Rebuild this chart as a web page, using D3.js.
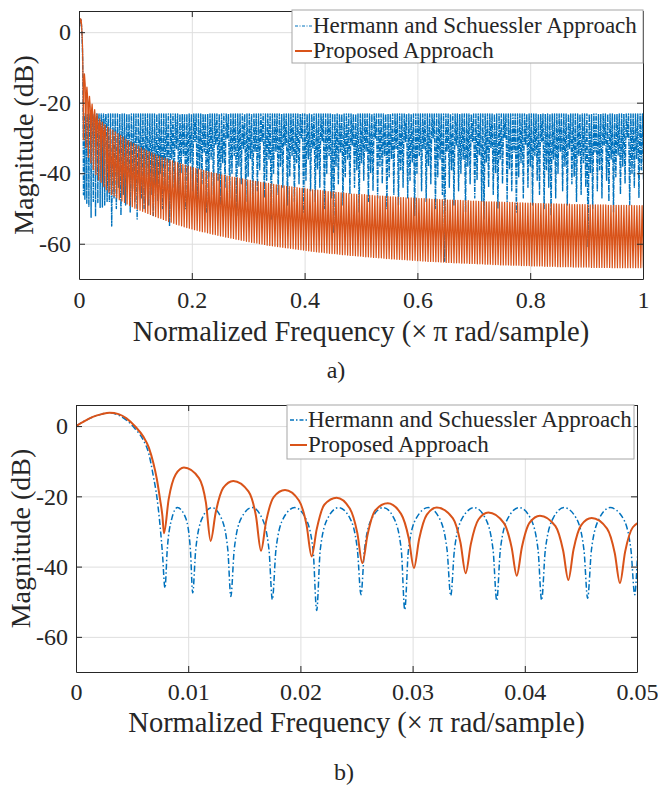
<!DOCTYPE html>
<html>
<head>
<meta charset="utf-8">
<script src="https://cdn.jsdelivr.net/npm/d3@7"></script>
<style>
  html, body { margin: 0; padding: 0; background: #fff; }
  svg { display: block; }
  text { font-family: "Liberation Serif", "Times New Roman", serif; fill: #262626; }
</style>
</head>
<body>
<svg id="fig" width="658" height="787"></svg>
<script>
// ---------------- data ----------------
const seriesNames = ["Hermann and Schuessler Approach", "Proposed Approach"];
const fullFreqTicks = [0, 0.2, 0.4, 0.6, 0.8, 1];
const fullFreqLabels = ["0", "0.2", "0.4", "0.6", "0.8", "1"];
const zoomFreqTicks = [0, 0.01, 0.02, 0.03, 0.04, 0.05];
const zoomFreqLabels = ["0", "0.01", "0.02", "0.03", "0.04", "0.05"];
const dbTicks = [0, -20, -40, -60];
const dbLabels = ["0", "-20", "-40", "-60"];

// Hermann & Schuessler response, passband and first stopband lobes (f in xπ rad/sample, dB)
const hsLowF = [0, 0.0008, 0.0015, 0.0023, 0.003, 0.0038, 0.0045, 0.0053, 0.006, 0.0065, 0.0069, 0.0072, 0.0075, 0.0077, 0.00793,
  0.00813, 0.00855, 0.00903, 0.00978, 0.0102, 0.0104,
  0.01067, 0.01125, 0.0121, 0.01295, 0.01353, 0.0138,
  0.0141, 0.01473, 0.0157, 0.01658, 0.0172, 0.0175,
  0.01782, 0.01849, 0.0195, 0.02046, 0.02113, 0.02145,
  0.02177, 0.02244, 0.0234, 0.02441, 0.02508, 0.0254,
  0.02571, 0.02638, 0.0274, 0.02833, 0.02899, 0.0293,
  0.02963, 0.03033, 0.0314, 0.03238, 0.03307, 0.0334,
  0.03373, 0.03443, 0.0355, 0.03648, 0.03717, 0.0375,
  0.03782, 0.0385, 0.0395, 0.0405, 0.04118, 0.0415,
  0.04183, 0.04253, 0.0435, 0.04458, 0.04527, 0.0456,
  0.04594, 0.04665, 0.0476, 0.04875, 0.04946, 0.0498,
  0.0501, 0.0508, 0.0518];
const hsLowDb = [0, 1.5, 2.6, 3.4, 3.8, 3.1, 1.7, -0.9, -4.0, -8.0, -14.4, -20.0, -28.6, -36.0, -46.1,
  -35.3, -26.2, -23.2, -26.2, -35.3, -47.5,
  -35.2, -26.2, -23.2, -26.2, -35.2, -48.5,
  -35.2, -26.2, -23.2, -26.2, -35.2, -49.4,
  -35.2, -26.2, -23.2, -26.2, -35.2, -52.5,
  -35.2, -26.2, -23.2, -26.2, -35.2, -48.0,
  -35.2, -26.2, -23.2, -26.2, -35.2, -52.3,
  -35.2, -26.2, -23.2, -26.2, -35.2, -48.3,
  -35.2, -26.2, -23.2, -26.2, -35.2, -49.7,
  -35.2, -26.2, -23.2, -26.2, -35.2, -49.6,
  -35.2, -26.2, -23.2, -26.2, -35.2, -49.0,
  -35.2, -26.2, -23.2, -26.2, -35.2, -48.0,
  -35.2, -26.2, -23.2];

// Proposed response, passband and first stopband lobes
const propLowF = [0, 0.0008, 0.0015, 0.0023, 0.003, 0.0038, 0.0045, 0.0053, 0.006, 0.0065, 0.0069, 0.0072, 0.0075, 0.0077, 0.00784,
  0.00826, 0.00888, 0.00962, 0.01096, 0.01158, 0.0120,
  0.01245, 0.01312, 0.01402, 0.01537, 0.01604, 0.01649,
  0.01694, 0.01762, 0.01863, 0.01987, 0.02055, 0.0210,
  0.02145, 0.02213, 0.02323, 0.02439, 0.02507, 0.02552,
  0.02598, 0.02667, 0.02778, 0.02897, 0.02966, 0.03012,
  0.03058, 0.03127, 0.03215, 0.03358, 0.03427, 0.03473,
  0.03519, 0.03587, 0.03675, 0.03814, 0.03883, 0.03928,
  0.03974, 0.04043, 0.04135, 0.04273, 0.04342, 0.04388,
  0.04434, 0.04503, 0.04596, 0.04733, 0.04802, 0.04848,
  0.04894, 0.04963, 0.0506];
const propLowDb = [0, 1.5, 2.6, 3.4, 3.8, 3.4, 2.2, -0.2, -3.0, -6.2, -10.6, -15.0, -21.0, -25.5, -30.5,
  -20.8, -13.8, -11.8, -14.8, -21.8, -32.7,
  -24.6, -17.6, -15.6, -18.6, -25.6, -35.5,
  -27.2, -20.2, -18.2, -21.2, -28.2, -37.1,
  -29.4, -22.4, -20.4, -23.4, -30.4, -39.0,
  -31.0, -24.0, -22.0, -25.0, -32.0, -40.4,
  -32.2, -25.2, -23.2, -26.2, -33.2, -41.9,
  -33.6, -26.6, -24.6, -27.6, -34.6, -42.6,
  -34.5, -27.5, -25.5, -28.5, -35.5, -43.8,
  -35.2, -28.2, -26.2, -29.2, -36.2, -44.7,
  -35.8, -28.8, -26.8];

// Remaining stopband: one peak and one null per lobe
const hsLobeStart = 0.0498, hsLobeWidth = 0.0041, hsRippleDb = -23.2;
const hsNullDb = [
  -48, -55, -47, -50, -44, -52, -46, -49, -41, -51, -45, -48, -53, -43, -47, -50, -42, -49, -46, -52, -44, -48, -40, -50, -45,
  -38, -55, -36, -44, -33, -47, -40, -35, -50, -42, -37, -45, -31, -48, -39, -43, -34, -51, -41, -36,
  -46, -32, -42, -49, -37, -44, -30, -47, -40, -35, -52, -38, -43, -33, -48, -41, -36, -50, -34, -45,
  -39, -31, -47, -42, -36, -53, -40, -34, -46, -38, -44, -32, -49, -41, -35, -48, -37, -43, -30, -51,
  -42, -36, -45, -33, -48, -39, -44, -31, -50, -40, -35, -47, -57, -38, -43, -34, -49, -41, -36, -46,
  -32, -44, -39, -51, -37, -42, -34, -48, -40, -45, -30, -47, -38, -43, -35, -50, -41, -36, -46, -33,
  -49, -39, -44, -31, -47, -42, -37, -52, -40, -35, -45, -33, -48, -38, -43, -30, -50, -41, -36, -46,
  -65, -34, -44, -39, -49, -32, -45, -40, -36, -51, -38, -43, -31, -47, -42, -35, -48, -53, -37, -44,
  -33, -46, -40, -50, -36, -43, -30, -48, -39, -45, -34, -51, -41, -37, -47, -32, -44, -38, -49, -35,
  -42, -46, -31, -50, -39, -44, -52, -36, -47, -40, -34, -45, -38, -49, -33, -43, -41, -48, -35, -46,
  -37, -44, -61, -40, -50, -34, -45, -39, -47, -32, -42, -48, -36, -51, -41, -35, -46, -38, -43, -30,
  -49, -40, -44, -36, -47, -39, -42];

const propLobeStart = 0.04848, propLobeWidth = 0.0046;
const propPeakDb = [
  -26.9, -27.4, -27.8, -28.3, -28.8, -29.3, -29.8, -30.3, -30.8, -31.2,
  -31.6, -32.0, -32.4, -32.8, -33.2, -33.6, -33.9, -34.2, -34.6, -34.9,
  -35.2, -35.5, -35.7, -36.0, -36.3, -36.5, -36.8, -37.0, -37.3, -37.5,
  -37.7, -38.0, -38.2, -38.4, -38.6, -38.8, -39.0, -39.2, -39.4, -39.6,
  -39.8, -40.0, -40.1, -40.3, -40.5, -40.6, -40.8, -40.9, -41.1, -41.2,
  -41.3, -41.5, -41.6, -41.8, -41.9, -42.0, -42.2, -42.3, -42.4, -42.6,
  -42.7, -42.8, -42.9, -43.0, -43.2, -43.3, -43.4, -43.5, -43.6, -43.7,
  -43.8, -43.9, -44.0, -44.1, -44.2, -44.3, -44.4, -44.5, -44.6, -44.7,
  -44.8, -44.8, -44.9, -45.0, -45.1, -45.2, -45.3, -45.3, -45.4, -45.5,
  -45.6, -45.6, -45.7, -45.8, -45.9, -45.9, -46.0, -46.0, -46.1, -46.1,
  -46.2, -46.3, -46.3, -46.4, -46.4, -46.5, -46.5, -46.6, -46.6, -46.7,
  -46.7, -46.8, -46.8, -46.9, -46.9, -47.0, -47.0, -47.0, -47.1, -47.1,
  -47.2, -47.2, -47.2, -47.3, -47.3, -47.4, -47.4, -47.4, -47.5, -47.5,
  -47.5, -47.6, -47.6, -47.6, -47.7, -47.7, -47.7, -47.8, -47.8, -47.8,
  -47.9, -47.9, -47.9, -48.0, -48.0, -48.0, -48.1, -48.1, -48.1, -48.1,
  -48.2, -48.2, -48.2, -48.3, -48.3, -48.3, -48.3, -48.4, -48.4, -48.4,
  -48.4, -48.5, -48.5, -48.5, -48.5, -48.6, -48.6, -48.6, -48.6, -48.7,
  -48.7, -48.7, -48.7, -48.7, -48.8, -48.8, -48.8, -48.8, -48.8, -48.9,
  -48.9, -48.9, -48.9, -48.9, -48.9, -49.0, -49.0, -49.0, -49.0, -49.0,
  -49.0, -49.0, -49.0, -49.1, -49.1, -49.1, -49.1, -49.1, -49.1, -49.1,
  -49.1, -49.1, -49.1, -49.2, -49.2, -49.2, -49.2];
const propNullDb = [
  -45.4, -46.0, -46.5, -47.0, -47.5, -47.9, -48.3, -48.7, -49.1, -49.5,
  -49.9, -50.2, -50.5, -50.8, -51.1, -51.4, -51.7, -52.0, -52.3, -52.6,
  -52.8, -53.1, -53.4, -53.7, -53.9, -54.2, -54.5, -54.7, -54.9, -55.2,
  -55.4, -55.6, -55.8, -56.0, -56.2, -56.4, -56.6, -56.7, -56.9, -57.1,
  -57.3, -57.4, -57.6, -57.8, -57.9, -58.1, -58.2, -58.4, -58.5, -58.7,
  -58.8, -59.0, -59.1, -59.3, -59.4, -59.6, -59.7, -59.8, -60.0, -60.1,
  -60.2, -60.4, -60.5, -60.6, -60.7, -60.8, -60.9, -61.0, -61.1, -61.2,
  -61.3, -61.4, -61.5, -61.6, -61.7, -61.8, -61.9, -62.0, -62.1, -62.2,
  -62.3, -62.4, -62.4, -62.5, -62.6, -62.7, -62.8, -62.8, -62.9, -63.0,
  -63.1, -63.1, -63.2, -63.3, -63.3, -63.4, -63.5, -63.5, -63.6, -63.7,
  -63.7, -63.8, -63.9, -63.9, -64.0, -64.0, -64.1, -64.2, -64.2, -64.3,
  -64.3, -64.4, -64.4, -64.5, -64.5, -64.6, -64.6, -64.7, -64.7, -64.8,
  -64.8, -64.9, -64.9, -65.0, -65.0, -65.0, -65.1, -65.1, -65.2, -65.2,
  -65.3, -65.3, -65.3, -65.4, -65.4, -65.4, -65.5, -65.5, -65.5, -65.6,
  -65.6, -65.6, -65.7, -65.7, -65.7, -65.8, -65.8, -65.8, -65.9, -65.9,
  -65.9, -66.0, -66.0, -66.0, -66.0, -66.1, -66.1, -66.1, -66.1, -66.2,
  -66.2, -66.2, -66.2, -66.3, -66.3, -66.3, -66.3, -66.3, -66.4, -66.4,
  -66.4, -66.4, -66.4, -66.5, -66.5, -66.5, -66.5, -66.5, -66.5, -66.6,
  -66.6, -66.6, -66.6, -66.6, -66.6, -66.6, -66.7, -66.7, -66.7, -66.7,
  -66.7, -66.7, -66.7, -66.7, -66.8, -66.8, -66.8, -66.8, -66.8, -66.8,
  -66.8, -66.8, -66.8, -66.8, -66.8, -66.8, -66.8];

// ---------------- series assembly ----------------
function lowPoints(fs, dbs, upTo) {
  const pts = [];
  fs.forEach((f, i) => { if (upTo === undefined || f <= upTo + 1e-9) pts.push([f, dbs[i]]); });
  return pts;
}
// Append the per-lobe stopband (peak then next null) to the low-frequency points
function withLobes(pts, start, width, peaks, nulls) {
  const out = pts.slice();
  nulls.forEach((n, k) => {
    const p = Array.isArray(peaks) ? peaks[k] : peaks;
    out.push([start + width * (k + 0.5), p]);
    out.push([start + width * (k + 1), n]);
  });
  return out;
}
const hsFull = withLobes(lowPoints(hsLowF, hsLowDb, hsLobeStart), hsLobeStart, hsLobeWidth, hsRippleDb, hsNullDb);
const propFull = withLobes(lowPoints(propLowF, propLowDb, propLobeStart), propLobeStart, propLobeWidth, propPeakDb, propNullDb);
const hsZoom = lowPoints(hsLowF, hsLowDb);
const propZoom = lowPoints(propLowF, propLowDb);

// ---------------- drawing ----------------
const svg = d3.select("#fig");
const BLUE = "#0072BD", RED = "#D95319", AXIS = "#262626", GRID = "#dedede";

function drawPanel(cfg) {
  const [x0, x1] = cfg.xRange, [yTop, yBot] = cfg.yRange;
  const x = d3.scaleLinear().domain(cfg.xDomain).range([x0, x1]);
  const y = d3.scaleLinear().domain([-70, 6]).range([yBot, yTop]);
  const g = svg.append("g");
  const h = yBot - yTop, w = x1 - x0;

  // grid
  g.append("g").attr("transform", `translate(0,${yBot})`)
    .call(d3.axisBottom(x).tickValues(cfg.xTicks).tickSize(-h).tickFormat(""))
    .call(s => { s.select(".domain").remove(); s.selectAll("line").attr("stroke", GRID).attr("stroke-width", 1); });
  g.append("g").attr("transform", `translate(${x0},0)`)
    .call(d3.axisLeft(y).tickValues(dbTicks).tickSize(-w).tickFormat(""))
    .call(s => { s.select(".domain").remove(); s.selectAll("line").attr("stroke", GRID).attr("stroke-width", 1); });

  // curves
  const clipId = "clip" + cfg.id;
  svg.append("clipPath").attr("id", clipId).append("rect")
    .attr("x", x0).attr("y", yTop).attr("width", w).attr("height", h);
  const line = d3.line().x(d => x(d[0])).y(d => y(d[1])).curve(cfg.curve);
  const plot = g.append("g").attr("clip-path", `url(#${clipId})`);
  plot.append("path").datum(cfg.hs).attr("d", line).attr("fill", "none")
    .attr("stroke", BLUE).attr("stroke-width", cfg.hsWidth).attr("stroke-dasharray", cfg.hsDash)
    .attr("stroke-linejoin", "round");
  plot.append("path").datum(cfg.prop).attr("d", line).attr("fill", "none")
    .attr("stroke", RED).attr("stroke-width", cfg.propWidth).attr("stroke-linejoin", "round");

  // axes box with inward ticks on all sides
  const axStyle = s => {
    s.select(".domain").attr("stroke", AXIS).attr("stroke-width", 1);
    s.selectAll(".tick line").attr("stroke", AXIS).attr("stroke-width", 1);
    s.selectAll("text").style("font-family", '"Liberation Serif", serif').style("font-size", "24px").attr("fill", AXIS);
  };
  const fmt = (labels, ticks) => v => labels[ticks.indexOf(v)];
  g.append("g").attr("transform", `translate(0,${yBot})`)
    .call(d3.axisBottom(x).tickValues(cfg.xTicks).tickFormat(fmt(cfg.xLabels, cfg.xTicks)).tickSizeInner(-6).tickSizeOuter(0).tickPadding(cfg.xPad))
    .call(axStyle);
  g.append("g").attr("transform", `translate(0,${yTop})`)
    .call(d3.axisTop(x).tickValues(cfg.xTicks).tickFormat("").tickSizeInner(-6).tickSizeOuter(0))
    .call(axStyle);
  g.append("g").attr("transform", `translate(${x0},0)`)
    .call(d3.axisLeft(y).tickValues(dbTicks).tickFormat(fmt(dbLabels, dbTicks)).tickSizeInner(-6).tickSizeOuter(0).tickPadding(cfg.yPad))
    .call(axStyle);
  g.append("g").attr("transform", `translate(${x1},0)`)
    .call(d3.axisRight(y).tickValues(dbTicks).tickFormat("").tickSizeInner(-6).tickSizeOuter(0))
    .call(axStyle);

  // axis labels
  g.append("text").attr("x", (x0 + x1) / 2).attr("y", cfg.xLabelY).attr("text-anchor", "middle")
    .style("font-size", "28.5px").text("Normalized Frequency (\u00D7\u2009\u03C0 rad/sample)");
  g.append("text").attr("transform", `translate(${cfg.yLabelX},${(yTop + yBot) / 2}) rotate(-90)`)
    .attr("text-anchor", "middle").style("font-size", "28px").text("Magnitude (dB)");
  g.append("text").attr("x", cfg.capX).attr("y", cfg.capY).attr("text-anchor", "middle")
    .style("font-size", "24px").text(cfg.caption);

  // legend
  const L = cfg.legend;
  const lg = g.append("g");
  lg.append("rect").attr("x", L.x).attr("y", L.y).attr("width", L.w).attr("height", L.h)
    .attr("fill", "#fff").attr("stroke", "#a6a6a6").attr("stroke-width", 1);
  [[BLUE, cfg.legendDash, cfg.hsLegendWidth], [RED, null, cfg.propLegendWidth]].forEach(([c, dash, sw], i) => {
    const by = L.rows[i];
    lg.append("line").attr("x1", L.lx0).attr("x2", L.lx1).attr("y1", by - 7).attr("y2", by - 7)
      .attr("stroke", c).attr("stroke-width", sw).attr("stroke-dasharray", dash);
    lg.append("text").attr("x", L.tx).attr("y", by).style("font-size", "23px").text(seriesNames[i]);
  });
}

drawPanel({
  id: "a", xDomain: [0, 1], xRange: [79, 643], yRange: [11, 279],
  xTicks: fullFreqTicks, xLabels: fullFreqLabels, xPad: 12, yPad: 8,
  hs: hsFull, prop: propFull, curve: d3.curveLinear,
  hsWidth: 1.4, hsDash: "5,1,1.5,1", propWidth: 1.25,
  xLabelY: 341, yLabelX: 33, caption: "a)", capX: 336, capY: 378,
  legend: { x: 292, y: 10, w: 351, h: 53, rows: [33, 58], lx0: 295, lx1: 312, tx: 313 },
  legendDash: "3,1.5,1,1.5", hsLegendWidth: 1, propLegendWidth: 2
});

drawPanel({
  id: "b", xDomain: [0, 0.05], xRange: [76, 637], yRange: [405, 672],
  xTicks: zoomFreqTicks, xLabels: zoomFreqLabels, xPad: 11, yPad: 8,
  hs: hsZoom, prop: propZoom, curve: d3.curveMonotoneX,
  hsWidth: 1.5, hsDash: "6,2.5,1.5,2.5", propWidth: 2,
  xLabelY: 732, yLabelX: 30, caption: "b)", capX: 344, capY: 780,
  legend: { x: 287, y: 405, w: 347, h: 54, rows: [427, 452], lx0: 290, lx1: 307, tx: 308 },
  legendDash: "4,2,1.5,2", hsLegendWidth: 1.5, propLegendWidth: 2
});
</script>
</body>
</html>
